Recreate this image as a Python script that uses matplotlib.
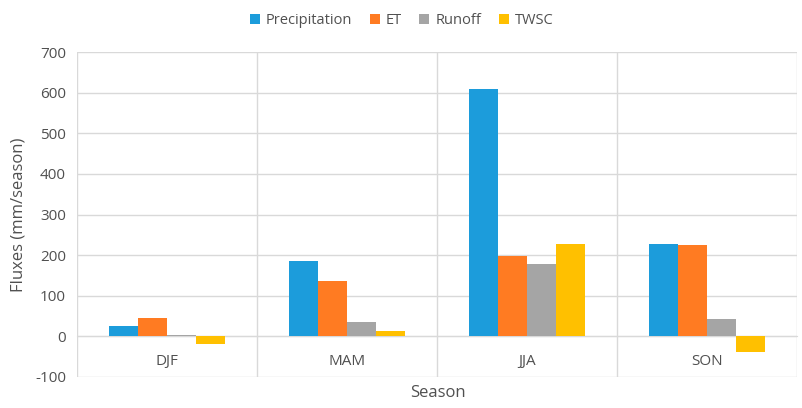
import numpy as np
import matplotlib

matplotlib.use("Agg")
import matplotlib.pyplot as plt
from matplotlib.ticker import FixedLocator

plt.rcParams["font.family"] = ["Open Sans", "DejaVu Sans"]
plt.rcParams["axes.unicode_minus"] = False

# --- Data --------------------------------------------------------------------
seasons = ["DJF", "MAM", "JJA", "SON"]
series_names = ["Precipitation", "ET", "Runoff", "TWSC"]
precipitation = [25, 186, 608, 228]
et = [46, 136, 198, 226]
runoff = [3, 36, 178, 42]
twsc = [-19, 14, 228, -38]
yticks = [-100, 0, 100, 200, 300, 400, 500, 600, 700]

colors = ["#1C9CDB", "#FF7B22", "#A5A5A5", "#FFC000"]
text_color = "#505050"
grid_color = "#D9D9D9"

# --- Plot --------------------------------------------------------------------
fig = plt.figure(figsize=(8.03, 4.08), dpi=100)
ax = fig.add_axes([0.096, 0.076, 0.8965, 0.7965])

x = np.arange(len(seasons))
bar_w = 0.161
for i, (name, vals) in enumerate(zip(series_names, [precipitation, et, runoff, twsc])):
    offset = (i - 1.5) * bar_w
    ax.bar(x + offset, vals, width=bar_w, color=colors[i], label=name, zorder=3)

ax.set_xlim(-0.5, len(seasons) - 0.5)
ax.set_ylim(yticks[0], yticks[-1])
ax.set_yticks(yticks)
ax.set_xticks(x)
ax.set_xticklabels(seasons)
ax.xaxis.set_minor_locator(FixedLocator(np.arange(-0.5, len(seasons), 1.0)))

ax.grid(axis="y", color=grid_color, linewidth=1, zorder=0)
ax.grid(axis="x", which="minor", color=grid_color, linewidth=1, zorder=0)
ax.set_axisbelow(True)

for side in ["top", "right", "left"]:
    ax.spines[side].set_visible(False)
ax.spines["bottom"].set_position(("data", 0))
ax.spines["bottom"].set_color(grid_color)
ax.spines["bottom"].set_zorder(1)

ax.tick_params(axis="x", which="both", length=0, pad=13, labelsize=11, colors=text_color)
ax.tick_params(axis="y", length=0, pad=8, labelsize=11, colors=text_color)

ax.set_ylabel("Fluxes (mm/season)", fontsize=12, color=text_color, labelpad=6)
fig.text(0.545, 0.018, "Season", ha="center", va="bottom", fontsize=12, color=text_color)

fig.legend(loc="upper center", bbox_to_anchor=(0.5, 1.0), ncol=4, frameon=False,
           fontsize=10.5, handlelength=0.7, handleheight=0.7, handletextpad=0.4,
           columnspacing=1.2, labelcolor=text_color)

fig.savefig("out.png", dpi=100)
